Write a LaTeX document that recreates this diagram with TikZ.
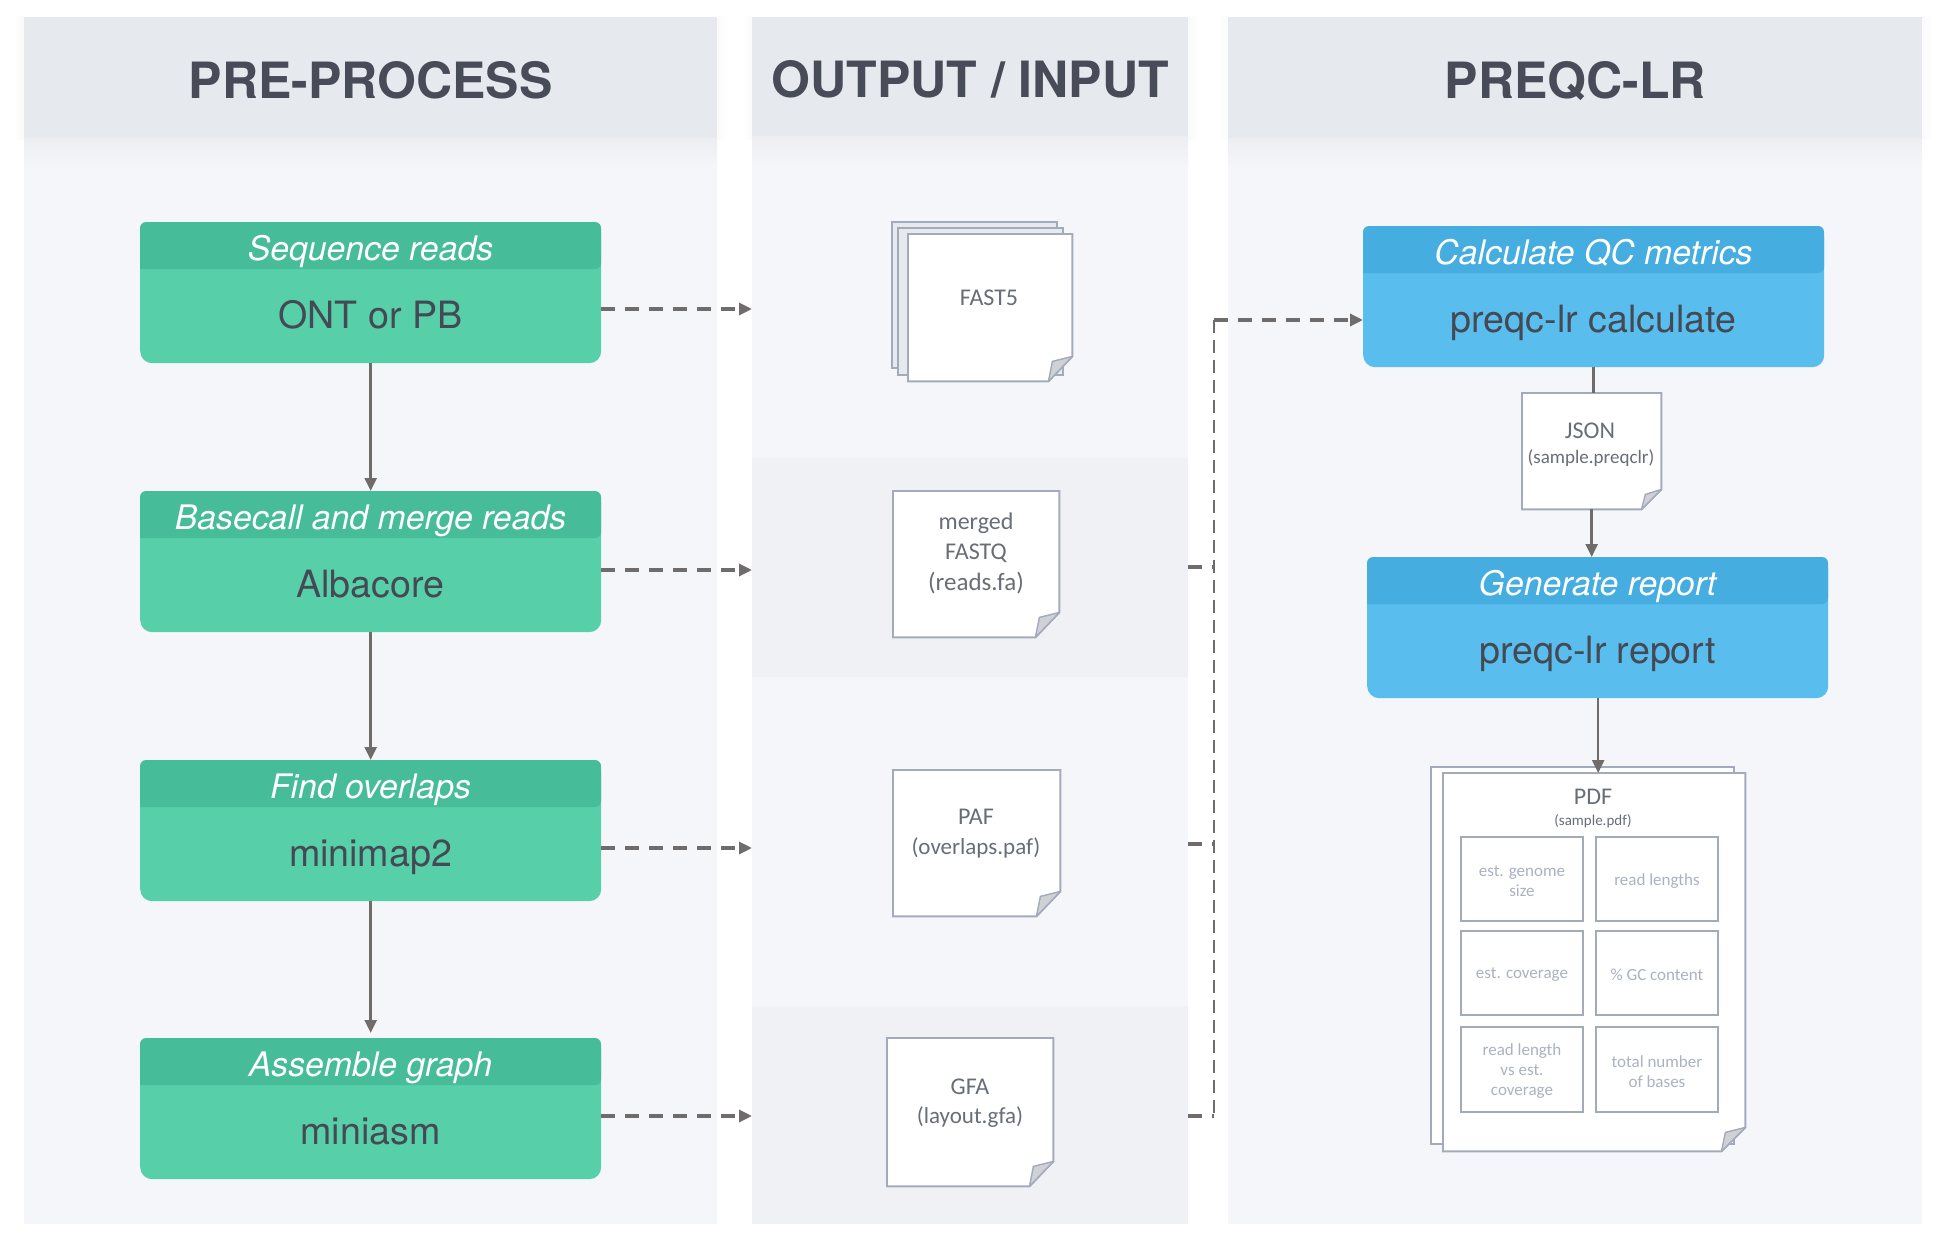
\documentclass[tikz,border=0pt]{standalone}
\usepackage{fontspec}
\setmainfont{Carlito}
\newfontfamily\heros{TeX Gyre Heros}
\usetikzlibrary{arrows.meta}
\definecolor{panelbg}{HTML}{F4F6FA}
\definecolor{bandbg}{HTML}{EFF1F5}
\definecolor{headbg}{HTML}{E6E9EE}
\definecolor{shadebg}{HTML}{ECEEF2}
\definecolor{glowbg}{HTML}{FAFAFB}
\definecolor{headtxt}{HTML}{474C58}
\definecolor{maintxt}{HTML}{454954}
\definecolor{greenA}{HTML}{57CFA8}
\definecolor{greenB}{HTML}{46BC98}
\definecolor{blueA}{HTML}{59BEEE}
\definecolor{blueB}{HTML}{45ADDF}
\definecolor{docline}{HTML}{A3ABBA}
\definecolor{foldbg}{HTML}{CFD1D5}
\definecolor{doctxt}{HTML}{686D78}
\definecolor{faint}{HTML}{ABB2C0}
\definecolor{conn}{HTML}{706C6C}
\tikzset{
  x=1pt,y=-1pt,
  panel/.style={anchor=north west,inner sep=0pt,fill=panelbg,minimum width=#1},
  headbar/.style={anchor=north west,inner sep=0pt,fill=headbg,minimum width=#1,text=headtxt,
    text height=42pt,text depth=1pt,font=\heros\bfseries\fontsize{50}{60}\selectfont},
  band/.style={anchor=north west,inner sep=0pt,fill=bandbg,minimum width=436pt},
  flowbody/.style={anchor=north west,inner sep=0pt,minimum width=461pt,minimum height=141pt,rounded corners=12pt},
  flowtitle/.style={text=white,inner sep=0pt,text height=0.72em,text depth=0.2em,font=\heros\itshape\fontsize{33.8}{40}\selectfont},
  flowmain/.style={text=maintxt,inner sep=0pt,text height=0.72em,text depth=0.2em,font=\heros\fontsize{37.6}{44}\selectfont},
  docnode/.style={anchor=north west,inner sep=0pt},
  docedge/.style={draw=docline,line width=1.9pt,fill=white,line join=miter},
  doctext/.style={text=doctxt,inner sep=0pt,align=center,font=\fontsize{#1}{#1}\selectfont},
  linetext/.style={doctext=#1,text height=16pt,text depth=5pt},
  cell/.style={anchor=north west,inner sep=0pt,draw=docline,line width=1.9pt,fill=white,minimum width=122pt,minimum height=84pt},
  celltext/.style={inner sep=0pt,text=faint,align=center,font=\fontsize{17}{20}\selectfont},
  solidflow/.style={draw=conn,line width=2.5pt,-{Triangle[length=13pt,width=12pt]}},
  dashflow/.style={draw=conn,line width=3.2pt,dash pattern=on 14pt off 10pt,-{Triangle[length=13pt,width=12pt]}},
  dashrun/.style={draw=conn,line width=2pt,dash pattern=on 13pt off 7pt},
  dashstub/.style={draw=conn,line width=3.2pt,dash pattern=on 14pt off 10pt},
}
\newcommand\flowbox[7]{%
  \node[flowbody,fill=#4] (#1) at (#2,#3) {};
  \fill[#5,rounded corners=6pt] (#2,#3+47) -- (#2,#3) -- (#2+461,#3) -- (#2+461,#3+47) [sharp corners] -- cycle;
  \node[flowtitle] (#1t) at (#2+230.5,#3+35.5) {#6};
  \node[flowmain] (#1m) at (#2+230.5,#3+104) {#7};
}
\newcommand\docpage[7]{%
  \node[docnode,minimum width=#4pt,minimum height=#5pt] (#1) at (#2,#3) {};
  \draw[docedge] (#1.north west) -- (#1.north east) -- ([yshift=#7pt]#1.south east) -- ([xshift=-#6pt]#1.south east) -- (#1.south west) -- cycle;
  \draw[docline,line width=1.4pt,fill=foldbg,line join=round] ([yshift=#7pt]#1.south east) -- ([xshift=-#6pt+4pt,yshift=#7pt-5pt]#1.south east) -- ([xshift=-#6pt]#1.south east) -- cycle;
}
\newcommand\cellbox[5][84pt]{%
  \node[cell,minimum height=#1] (#2) at (#3,#4) {};
  \node[celltext] (#2t) at ([yshift=-2pt]#2.center) {#5};
}
\begin{document}
\begin{tikzpicture}
\useasboundingbox (0,0) rectangle (1949,1244);
\fill[white] (0,0) rectangle (1949,1244);
% soft glow beside the headers
\shade[left color=white,right color=glowbg] (14,17) rectangle (24,140);
\shade[left color=glowbg,right color=white] (717,17) rectangle (727,140);
\shade[left color=white,right color=glowbg] (742,17) rectangle (752,140);
\shade[left color=glowbg,right color=white] (1188,17) rectangle (1198,140);
\shade[left color=white,right color=glowbg] (1218,17) rectangle (1228,140);
\shade[left color=glowbg,right color=white] (1922,17) rectangle (1932,140);
% panels
\node[panel=693pt,minimum height=1207pt] (pA) at (24,17) {};
\node[panel=436pt,minimum height=1207pt] (pB) at (752,17) {};
\node[panel=694pt,minimum height=1207pt] (pC) at (1228,17) {};
\node[band,minimum height=219pt] (bandA) at (752,458) {};
\node[band,minimum height=218pt] (bandB) at (752,1006) {};
% header shadows
\shade[top color=shadebg,bottom color=panelbg] (24,138) rectangle (717,168);
\shade[top color=shadebg,bottom color=panelbg] (752,136) rectangle (1188,166);
\shade[top color=shadebg,bottom color=panelbg] (1228,138) rectangle (1922,168);
% headers
\node[headbar=693pt,minimum height=121pt] (hA) at (24,17) {PRE-PROCESS};
\node[headbar=436pt,minimum height=119pt] (hB) at (752,17) {OUTPUT / INPUT};
\node[headbar=694pt,minimum height=121pt] (hC) at (1228,17) {PREQC-LR};
% process boxes
\flowbox{gA}{140}{222}{greenA}{greenB}{Sequence reads}{ONT or PB}
\flowbox{gB}{140}{491}{greenA}{greenB}{Basecall and merge reads}{Albacore}
\flowbox{gC}{140}{760}{greenA}{greenB}{Find overlaps}{minimap2}
\flowbox{gD}{140}{1038}{greenA}{greenB}{Assemble graph}{miniasm}
\flowbox{cA}{1363}{226}{blueA}{blueB}{Calculate QC metrics}{preqc-lr calculate}
\flowbox{cB}{1367}{557}{blueA}{blueB}{Generate report}{preqc-lr report}
% documents
\draw[docline,line width=1.9pt,fill=headbg] (892,222) rectangle (1057,368);
\draw[docline,line width=1.9pt,fill=headbg] (898,228) rectangle (1063,375);
\docpage{dFast}{908}{234}{164}{147}{24}{25}
\node[doctext=24] (tFast) at (989,298) {FAST5};
\docpage{dFq}{893}{491}{166}{146}{24}{25}
\node[linetext=24] (tFqA) at (976,524) {merged};
\node[linetext=24] (tFqB) at (976,554) {FASTQ};
\node[linetext=25] (tFqC) at (976,585) {(reads.fa)};
\docpage{dPaf}{893}{770}{167}{146}{24}{25}
\node[linetext=24] (tPafA) at (976,819) {PAF};
\node[linetext=23] (tPafB) at (976,849) {(overlaps.paf)};
\docpage{dGfa}{887}{1038}{166}{148}{24}{25}
\node[linetext=24] (tGfaA) at (970,1089) {GFA};
\node[linetext=23] (tGfaB) at (970,1118) {(layout.gfa)};
\docpage{dJson}{1522}{393}{139}{116}{20}{20}
\node[doctext=24] (tJsonA) at (1590,431) {JSON};
\node[doctext=19] (tJsonB) at (1591,458) {(sample.preqclr)};
\draw[docline,line width=1.9pt,fill=white] (1431,767) rectangle (1734,1144);
\docpage{dPdf}{1443}{773}{302}{378}{24}{24}
\node[doctext=24] (tPdfA) at (1593,797) {PDF};
\node[doctext=15] (tPdfB) at (1593,821) {(sample.pdf)};
\cellbox{cellA}{1460}{836}{est. genome\\size}
\cellbox{cellB}{1595}{836}{read lengths}
\cellbox{cellC}{1460}{930}{est. coverage}
\cellbox{cellD}{1595}{930}{\% GC content}
\cellbox[85pt]{cellE}{1460}{1026}{read length\\vs est.\\coverage}
\cellbox[85pt]{cellF}{1595}{1026}{total number\\of bases}
% solid connectors
\draw[solidflow] (gA.south) -- (gB.north);
\draw[solidflow] (gB.south) -- (gC.north);
\draw[solidflow,shorten >=5pt] (gC.south) -- (gD.north);
\draw[draw=conn,line width=2.5pt] (cA.south) -- (cA.south |- dJson.north);
\draw[solidflow] (dJson.south) -- (dJson.south |- cB.north);
\draw[solidflow] ([xshift=0.5pt]cB.south) -- ([xshift=0.5pt]cB.south |- dPdf.north);
% dashed connectors
\coordinate (eA) at (752,309);
\coordinate (eB) at (752,570);
\coordinate (eC) at (752,848);
\coordinate (eD) at (752,1116);
\coordinate (jTop) at (1214,320);
\coordinate (jA) at (1188,567);
\coordinate (jB) at (1188,844);
\coordinate (jC) at (1188,1116);
\draw[dashflow] (gA.east |- eA) -- (eA);
\draw[dashflow] (gB.east |- eB) -- (eB);
\draw[dashflow] (gC.east |- eC) -- (eC);
\draw[dashflow] (gD.east |- eD) -- (eD);
\draw[dashrun] (jTop) -- (jTop |- jC);
\draw[dashflow] (jTop) -- (cA.west |- jTop);
\draw[dashstub] (jA) -- (jTop |- jA);
\draw[dashstub] (jB) -- (jTop |- jB);
\draw[dashstub] (jC) -- (jTop |- jC);
\end{tikzpicture}
\end{document}
